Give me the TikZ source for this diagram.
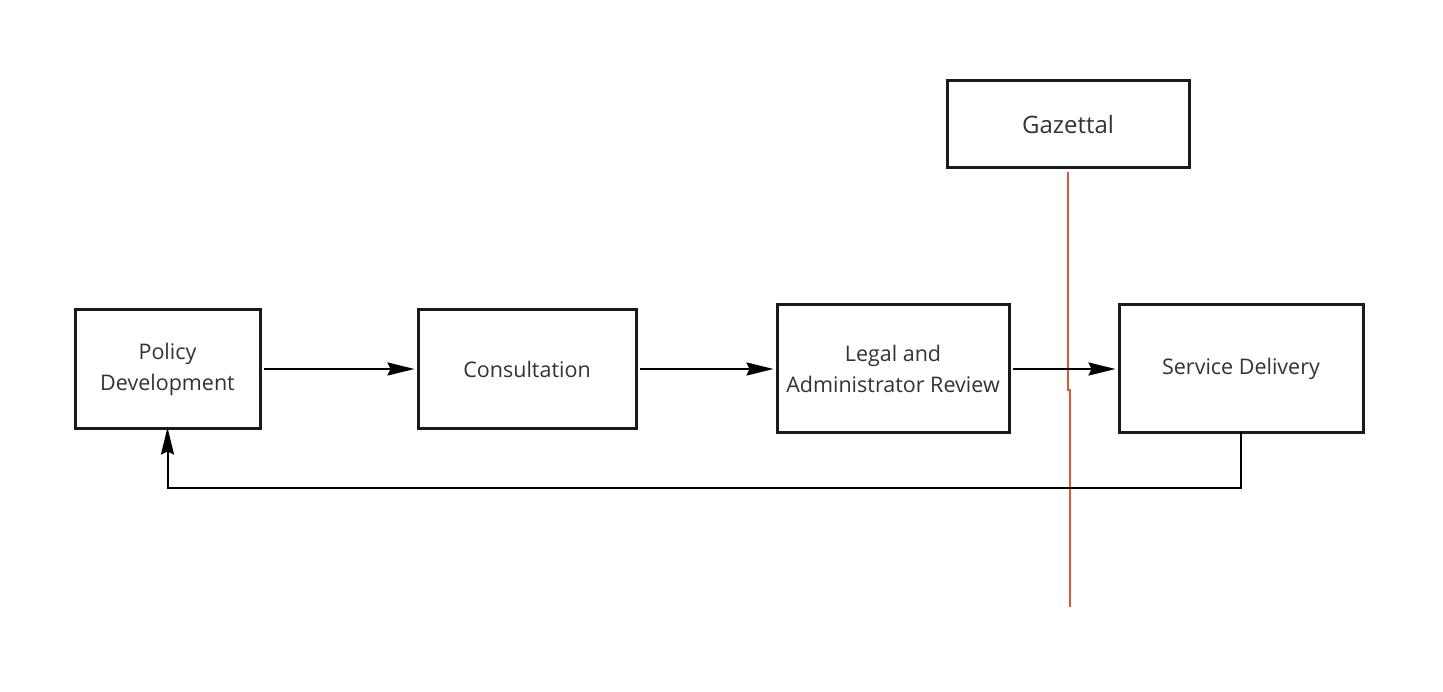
\documentclass[tikz,border=0pt]{standalone}
\usepackage{fontspec}
\setmainfont{Open Sans}
\usetikzlibrary{arrows.meta}
\definecolor{boxline}{HTML}{1A1A1A}
\definecolor{txt}{HTML}{333333}
\definecolor{redline}{HTML}{E0553A}
\begin{document}
\begin{tikzpicture}[x=1pt,y=-1pt,
  box/.style={draw=boxline,line width=3pt,fill=white,inner sep=0pt,text=txt,
    font=\fontsize{21.5}{31}\selectfont,align=center},
  conn/.style={line width=2pt,draw=black,-{Stealth[length=27pt,width=13pt,inset=3pt]}}]
\useasboundingbox (0,0) rectangle (1443,692);
\node[box,minimum width=185pt,minimum height=118pt] (pd) at (167.5,369) {Policy\\Development};
\node[box,minimum width=218pt,minimum height=118pt] (co) at (527,369) {Consultation};
\node[box,minimum width=232pt,minimum height=127pt] (lr) at (893,368.5) {Legal and\\Administrator Review};
\node[box,minimum width=244pt,minimum height=127pt] (sd) at (1241,368.5) {Service Delivery};
\node[box,minimum width=242pt,minimum height=87pt,font=\fontsize{24}{30}\selectfont] (gz) at (1068,124.5) {Gazettal};
\coordinate (r1) at (1068,172);
\coordinate (r2) at (1068,390);
\coordinate (r3) at (1070,390);
\coordinate (r4) at (1070,607);
\draw[conn] ([xshift=2pt]pd.east |- 0,369) -- ([xshift=-2pt]co.west |- 0,369);
\draw[conn] ([xshift=2pt]co.east |- 0,369) -- ([xshift=-2pt]lr.west |- 0,369);
\draw[draw=redline,line width=2pt] (r1) -- (r2) -- (r3) -- (r4);
\draw[conn] ([xshift=2pt]lr.east |- 0,369) -- ([xshift=-2pt]sd.west |- 0,369);
\coordinate (fb) at (1241,488);
\draw[conn] ([yshift=2pt]sd.south) -- (fb) -- (pd.south |- fb) -- ([yshift=2pt]pd.south);
\end{tikzpicture}
\end{document}
